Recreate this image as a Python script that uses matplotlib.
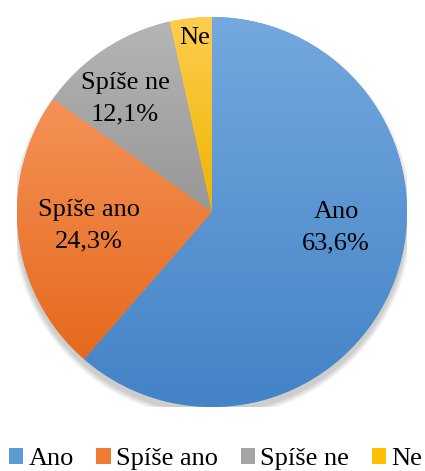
import numpy as np
import matplotlib
matplotlib.use('Agg')
import matplotlib.pyplot as plt
from matplotlib.colors import LinearSegmentedColormap
from matplotlib.patches import Circle, Patch

plt.rcParams['font.family'] = ['Liberation Serif', 'DejaVu Serif']

# data (Ne label shows no percentage)
categories = ['Ano', 'Spíše ano', 'Spíše ne', 'Ne']
values = [63.6, 24.3, 12.1, 3.6]
label_texts = ['Ano\n63,6%', 'Spíše ano\n24,3%', 'Spíše ne\n12,1%', 'Ne']

# light (top) / dark (bottom) gradient colours per slice
light = ['#74a8de', '#f59257', '#b5b5b5', '#ffcd4f']
dark = ['#4383c6', '#e5691c', '#979797', '#eeb400']
base = ['#5b9bd5', '#ed7d31', '#a5a5a5', '#ffc000']

fig = plt.figure(figsize=(4.25, 4.71), dpi=100)
ax = fig.add_axes([17 / 425, 1 - 407 / 471, 390 / 425, 390 / 471])

# soft shadow under the pie
for i in range(10):
    ax.add_patch(Circle((0, -0.03), 1 + 0.003 * i, color='#000000',
                        alpha=0.02, lw=0, zorder=0))

wedges, _ = ax.pie(values, startangle=90, counterclock=False, colors=base,
                   radius=1, wedgeprops=dict(linewidth=0))

grad = np.linspace(1, 0, 256).reshape(-1, 1)
for w, c1, c2 in zip(wedges, light, dark):
    w.set_zorder(1)
    bb = w.get_path().get_extents(w.get_patch_transform())
    cmap = LinearSegmentedColormap.from_list('g', [c2, c1])
    im = ax.imshow(grad, cmap=cmap, aspect='auto', zorder=2,
                   extent=[bb.x0, bb.x1, bb.y0, bb.y1], interpolation='bilinear')
    im.set_clip_path(w)

# label positions (Excel best fit)
label_pos = [(0.636, -0.08), (-0.63, -0.07), (-0.446, 0.58), (-0.087, 0.89)]
for txt, (lx, ly) in zip(label_texts, label_pos):
    ax.text(lx, ly, txt, ha='center', va='center', fontsize=19,
            linespacing=1.55, zorder=5, color='black')

ax.set_xlim(-1, 1)
ax.set_ylim(-1, 1)
ax.set_aspect('equal')
ax.axis('off')

handles = [Patch(facecolor=c) for c in base]
fig.legend(handles, categories, loc='center', bbox_to_anchor=(215.5 / 425, 1 - 459 / 471),
           ncol=4, frameon=False, fontsize=19, handlelength=0.55, handleheight=0.55,
           handletextpad=0.2, columnspacing=0.85, borderpad=0, borderaxespad=0)

fig.savefig('out.png', dpi=100)
